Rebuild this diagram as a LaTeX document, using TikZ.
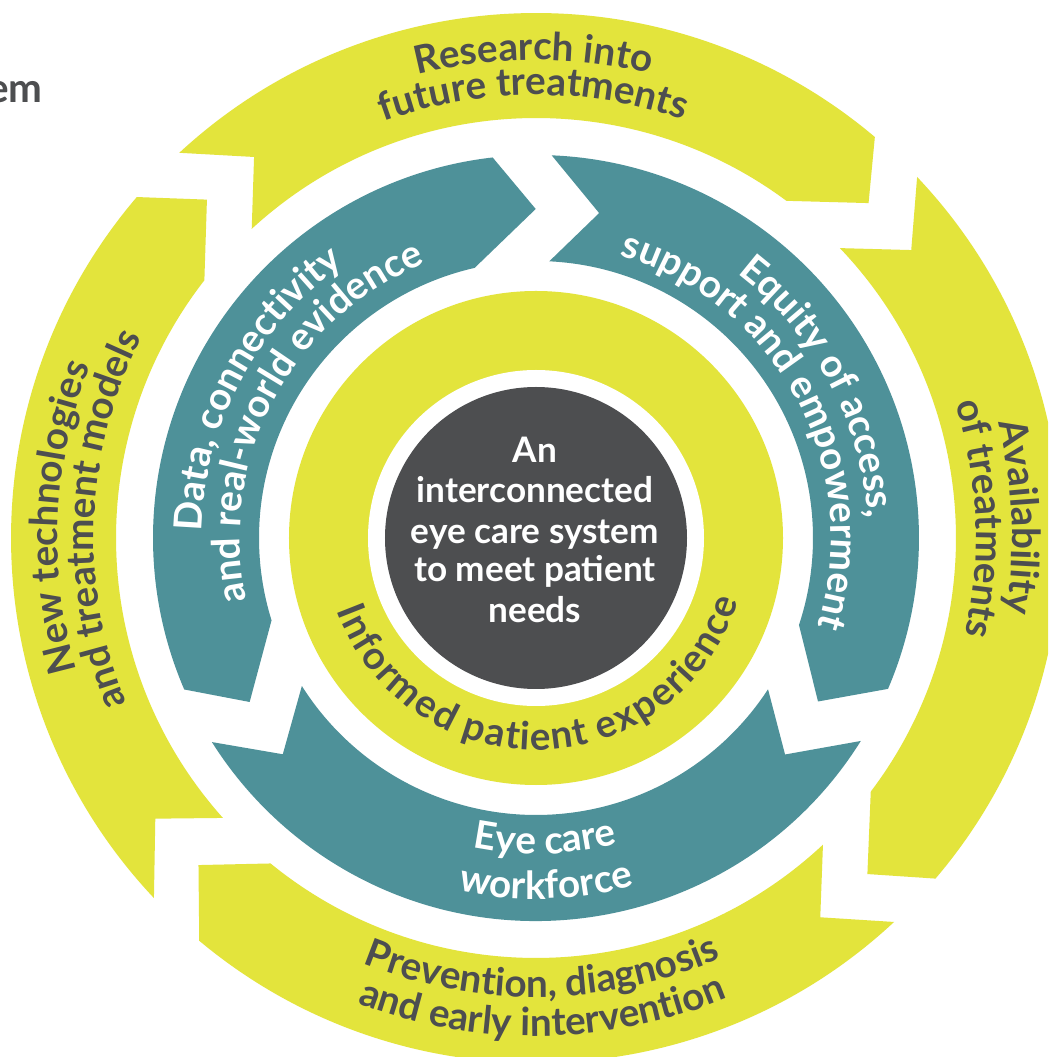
\documentclass[tikz,border=0pt]{standalone}
\usepackage{fontspec}
\setmainfont{Lato}
\usetikzlibrary{decorations.text}
\definecolor{lime}{RGB}{227,228,60}
\definecolor{tealband}{RGB}{78,145,153}
\definecolor{dgrey}{RGB}{77,78,80}
\newcommand\ringfont{\fontsize{22}{25}\selectfont\bfseries}
% #1 radius, #2 start angle, #3 end angle, #4 colour, #5 text
\newcommand\arctext[5]{%
  \path[decorate,decoration={text along path,text={|\ringfont|#5},text align=center,text color=#4}]
    (#2:#1) arc[start angle=#2, end angle=#3, radius=#1];}
\begin{document}
\begin{tikzpicture}[x=0.02cm,y=0.02cm,
  limeseg/.style={fill=lime},
  tealseg/.style={fill=tealband},
  ctext/.style={text=white,font=\fontsize{20}{24}\selectfont\bfseries,anchor=base,inner sep=0pt}]
\useasboundingbox (-536,-519) rectangle (512,538);
\clip (-536,-519) rectangle (512,538);
\fill[white] (-536,-519) rectangle (512,538);

% outer ring segments
\fill[limeseg] (132.8:525) arc[start angle=132.8, end angle=49.8, radius=525] -- (45.2:472) -- (53.4:420) arc[start angle=53.4, end angle=132.6, radius=420] -- (126.5:474) -- cycle;
\fill[limeseg] (43.45:525) arc[start angle=43.45, end angle=-40.45, radius=525] -- (-45.4:472) -- (-37.15:420) arc[start angle=-37.15, end angle=43.65, radius=420] -- (37.5:473) -- cycle;
\fill[limeseg] (-47:525) arc[start angle=-47, end angle=-129.9, radius=525] -- (-135.9:470) -- (-129.2:420) arc[start angle=-129.2, end angle=-46.9, radius=420] -- (-53.15:474) -- cycle;
\fill[limeseg] (-136.7:525) arc[start angle=-136.7, end angle=-220.5, radius=525] -- (-225.8:472) -- (-217.85:420) arc[start angle=-217.85, end angle=-138.2, radius=420] -- (-143.6:473) -- cycle;

% teal ring segments
\fill[tealseg] (203.3:383) arc[start angle=203.3, end angle=96.5, radius=383] -- (90.05:329) -- (102.8:277) arc[start angle=102.8, end angle=197.3, radius=277] -- (209.8:330) -- cycle;
\fill[tealseg] (87.65:383) arc[start angle=87.65, end angle=-23.2, radius=383] -- (-30.1:326) -- (-18.3:277) arc[start angle=-18.3, end angle=87.25, radius=277] -- (79.0:331) -- cycle;
\fill[tealseg] (-32:383) arc[start angle=-32, end angle=-147.8, radius=383] -- (-139.5:333) -- (-147.7:277) arc[start angle=-147.7, end angle=-33.1, radius=277] -- (-41:330) -- cycle;

% inner disc and centre
\fill[lime] (0,0) circle[radius=247];
\fill[white] (0,0) circle[radius=168];
\fill[dgrey] (0,0) circle[radius=151];

% outer ring texts
\arctext{478}{175.3}{5.3}{dgrey}{Research into}
\arctext{443}{175.3}{5.3}{dgrey}{future treatments}
\arctext{476}{87.5}{-82.5}{dgrey}{Availability}
\arctext{440}{87.5}{-82.5}{dgrey}{of treatments}
\arctext{459}{185.8}{355.8}{dgrey}{Prevention, diagnosis}
\arctext{498}{185.8}{355.8}{dgrey}{and early intervention}
\arctext{478}{262.5}{92.5}{dgrey}{New technologies}
\arctext{442}{262.5}{92.5}{dgrey}{and treatment models}

% teal ring texts
\arctext{334}{237}{67}{white}{Data, connectivity}
\arctext{296}{237}{67}{white}{and real-world evidence}
\arctext{332}{113}{-57}{white}{Equity of access,}
\arctext{295}{113}{-57}{white}{support and empowerment}
\arctext{316}{186.7}{356.7}{white}{Eye care}
\arctext{361}{186.7}{356.7}{white}{workforce}

% inner ring text (spread slightly wider, baseline kept at r = 212)
\path[decorate,decoration={text along path,text={|\ringfont|Informed patient experience},text align=center,text color=dgrey,raise=-0.32cm}]
  (181.4:196) arc[start angle=181.4, end angle=361.4, radius=196];

% centre text
\node[ctext] (c1) at (-1,75) {An};
\node[ctext] (c2) at (-1,35) {interconnected};
\node[ctext] (c3) at (-1,-6) {eye care system};
\node[ctext] (c4) at (-1,-44) {to meet patient};
\node[ctext] (c5) at (-1,-85) {needs};

% cut-off title fragment
\node[font=\fontsize{23}{27}\selectfont\bfseries,text=dgrey,anchor=base east,inner sep=0pt] (title) at (-493,435) {em};
\end{tikzpicture}
\end{document}
